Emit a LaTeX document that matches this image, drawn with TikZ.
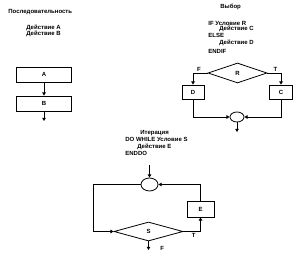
\documentclass[tikz,border=0pt]{standalone}
\usepackage{fontspec}
\setmainfont{Liberation Sans}
\usepackage{tikz}
\usetikzlibrary{positioning,arrows.meta,shapes.geometric}
\tikzset{
  act/.style={draw,line width=0.8pt,minimum width=55pt,minimum height=15pt,inner sep=0pt},
  cond/.style={draw,diamond,line width=0.8pt,inner sep=0pt},
  merge/.style={draw,ellipse,line width=0.8pt,inner sep=0pt},
  txt/.style={anchor=west,inner sep=0pt},
  lbl/.style={inner sep=1.5pt},
}

\begin{document}
\begin{tikzpicture}[x=1pt,y=-1pt,>={Triangle[length=3.2pt,width=3.6pt]},
   line width=0.8pt,font=\fontsize{6}{7}\selectfont\bfseries]
  \useasboundingbox (0,0) rectangle (307,261);
  % sequence
  \node[txt] (seqT) at (8,12) {Последовательность};
  \node[txt] (seqA) at (26,28) {Действие A};
  \node[txt] (seqB) at (26,34) {Действие B};
  \node[act] (A) at (44,74.5) {A};
  \node[act] (B) at (44,103.5) {B};
  \coordinate (Bout) at (44,121);
  \draw[->] (A) -- (B);
  \draw[->] (B) -- (Bout);
  % choice
  \node[txt] (selT) at (220,7) {Выбор};
  \node[txt] (selIf) at (208,23) {IF Условие R};
  \node[txt] (selC) at (219,29) {Действие C};
  \node[txt] (selElse) at (208,35) {ELSE};
  \node[txt] (selD) at (219,43) {Действие D};
  \node[txt] (selEnd) at (208,51) {ENDIF};
  \node[cond,minimum width=59pt,minimum height=20pt] (R) at (237.5,73) {R};
  \node[act,minimum width=22pt,minimum height=14pt] (D) at (193,92) {D};
  \node[act,minimum width=23pt,minimum height=14pt] (C) at (281,92) {C};
  \node[merge,minimum width=14pt,minimum height=10pt] (M1) at (237,117) {};
  \coordinate (M1out) at (237,132);
  \draw[->] (R.west) -| node[lbl,above,pos=0.3]{F} (D.north);
  \draw[->] (R.east) -| node[lbl,above,pos=0.3]{T} (C.north);
  \draw[->] (D.south) |- (M1.west);
  \draw[->] (C.south) |- (M1.east);
  \draw[->] (M1) -- (M1out);
  % iteration
  \node[txt] (itT) at (140,133) {Итерация};
  \node[txt] (itDo) at (125,139.5) {DO WHILE Условие S};
  \node[txt] (itE) at (137,147) {Действие E};
  \node[txt] (itEnd) at (125,153) {ENDDO};
  \coordinate (Iin) at (149.5,165);
  \node[merge,minimum width=17pt,minimum height=13pt] (M2) at (149.5,184.5) {};
  \node[cond,minimum width=69pt,minimum height=19pt] (S) at (148.5,231.5) {S};
  \node[act,minimum width=27pt,minimum height=16pt] (E) at (200.5,209) {E};
  \coordinate (Sout) at (148.5,250);
  \draw[->] (Iin) -- (M2);
  \draw[->] (M2.west) -- ++(-47,0) |- (S.west);
  \draw[->] (S.east) -| node[lbl,below,pos=0.3]{T} (E.south);
  \draw[->] (E.north) |- (M2.east);
  \draw[->] (S.south) -- node[lbl,right,pos=0.8,xshift=10pt]{F} (Sout);
\end{tikzpicture}
\end{document}
